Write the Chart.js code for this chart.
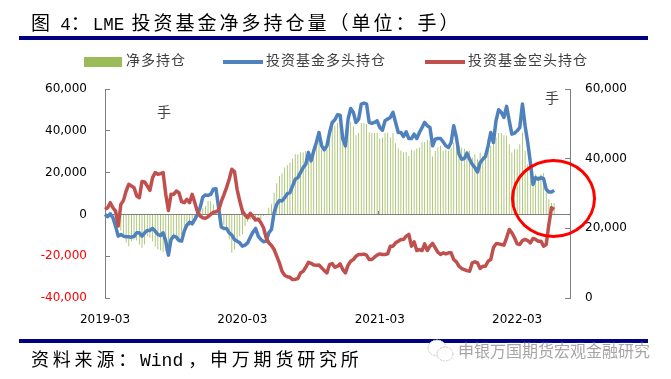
<!DOCTYPE html>
<html>
<head>
<meta charset="utf-8">
<script src="https://cdn.jsdelivr.net/npm/chart.js@4"></script>
<style>
  html, body { margin: 0; padding: 0; background: #fff; }
  #page { position: relative; width: 671px; height: 379px; overflow: hidden; }
  #page canvas { position: absolute; left: 0; top: 0; }
  .txt { position: absolute; white-space: nowrap; line-height: 1; font-family: "Noto Sans CJK SC", sans-serif; }
  .rule { position: absolute; left: 19px; width: 629px; height: 4px; background: #000080; }
  .head { font-size: 19px; letter-spacing: 3px; color: #000; }
  .head b, .foot b { font-family: "Liberation Mono", monospace; font-weight: 400; letter-spacing: 0; }
  .head b { font-size: 17.5px; }
  .foot { font-size: 18px; letter-spacing: 3.8px; color: #000; }
  .foot b { margin-right: 5px; }
  .leg { font-size: 14px; letter-spacing: 1px; color: #404040; top: 52px; }
  .key { position: absolute; }
  .unit { font-size: 14px; color: #404040; }
  #ring { position: absolute; left: 511px; top: 159px; width: 85px; height: 79px; box-sizing: border-box;
          border: 3px solid #ff0000; border-radius: 50%; }
  #mark { font-size: 16px; color: #a6a6a6; left: 458px; top: 342px; text-shadow: 0 0 2px #fff, 0 0 2px #fff; }
</style>
</head>
<body>
<div id="page">
  <canvas id="chart" width="671" height="379"></canvas>
  <div class="rule" style="top:36px"></div>
  <div class="rule" style="top:339px"></div>
  <div class="txt head" style="left:31px;top:12px">图 <b>4</b>：<b>LME</b> 投资基金净多持仓量（单位：手）</div>
  <div class="txt foot" style="left:31px;top:349px">资料来源：<b>Wind</b>，申万期货研究所</div>
  <div class="txt unit" style="left:157px;top:104px">手</div>
  <div class="txt unit" style="left:545px;top:90px">手</div>
  <div id="legend"></div>
  <div id="ring"></div>
  <svg style="position:absolute;left:426px;top:336px" width="30" height="30">
    <ellipse cx="11" cy="12" rx="9" ry="8" fill="#fff" stroke="#c8c8c8" stroke-dasharray="2 1"/>
    <ellipse cx="19" cy="18" rx="8" ry="7" fill="#fff" stroke="#c8c8c8" stroke-dasharray="2 1"/>
  </svg>
  <div class="txt" id="mark">申银万国期货宏观金融研究</div>
</div>
<script>
// weekly positions, 2019-03 to 2022-05
const xTickLabels = ['2019-03', '2020-03', '2021-03', '2022-03'];
const weeksPerTick = 52;
const weekCount = 177;

const netLong = [
  0,0,0,-500,-1000,-3000,-7700,-11200,-13600,-15200,-12800,-12000,-12500,-14400,-16000,-14400,-10400,-11200,-12800,-15200,
  -16800,-17300,-17900,-17600,-16000,-13100,-11500,-12500,-12500,-9900,-8000,-6100,-5600,-5100,-3200,-800,1600,2900,4000,6400,
  6400,4800,1900,-800,-1600,-5100,-8000,-12000,-18400,-16800,-13600,-10400,-9600,-5600,-3500,-2400,-2400,-1600,-800,-2400,
  -800,0,3200,4800,10400,14900,18400,19700,22400,23500,24800,26700,28800,28800,29600,29600,30400,30400,28800,29600,
  32800,39000,31200,30400,31200,38400,41600,42400,43700,43200,37600,32800,43700,44300,42100,37900,38900,43700,43700,43200,
  39200,38900,38900,38900,36300,36800,38900,39200,36800,38900,34100,31500,30400,29600,29900,28000,30900,30400,31500,32000,
  34400,34700,35700,35200,27700,30400,32000,32800,30400,31200,30400,32000,34400,34400,32800,32000,31500,30400,30400,27200,
  28800,26400,29600,28000,30400,36000,32800,35200,36800,38900,38900,37900,37600,33600,29600,31200,31200,33600,39200,30400,
  24000,21600,18400,19200,18400,19200,19700,14400,7200,5600,5300
];

const fundLong = [
  0,-1100,300,-1600,-5600,-10400,-9600,-10400,-10700,-10700,-10900,-10500,-8800,-8800,-10400,-8800,-7700,-7700,-6700,-8000,
  -9600,-10100,-8800,-12800,-19500,-12000,-10400,-10900,-12500,-12800,-8000,-5100,-3700,-4500,-2400,0,3200,8300,9300,9100,
  9600,12000,12300,3200,-6000,-6700,-6700,-8800,-9900,-12000,-12800,-13600,-15200,-14700,-13600,-10900,-8500,-6700,-10400,-12000,
  -13100,-12800,-8800,-7200,800,4800,6700,6400,8000,9900,10400,13600,16800,17600,20000,22400,24000,29600,25600,30400,
  34400,39200,32800,30900,32800,39200,44000,45300,47700,47500,36000,32800,45600,50700,48800,44000,45600,52800,53300,52800,
  44000,43500,44000,44800,41600,40300,44800,45600,46400,48800,44000,39200,39200,37300,39500,36300,36300,38400,36300,39200,
  41600,44000,42400,41600,32800,36000,36300,36300,34700,32800,32000,34400,42400,36800,28800,26400,26700,29300,26400,24000,
  22400,20300,24800,26400,27700,32800,39200,34400,44800,50100,48800,46400,51700,44800,38400,38900,40000,41600,52800,42400,
  34400,24800,14400,17600,16800,17600,17100,12000,10700,10700,11500
];

const fundShort = [
  2400,3200,5600,3200,1600,-5600,4800,6700,11200,14400,13600,12800,8800,8000,15700,15500,13600,11500,17600,20000,
  19200,19500,20000,9600,1900,9600,9600,11200,10400,6100,5600,7200,5600,9600,5600,1300,-800,-1600,-1900,-1100,
  0,1000,1300,1900,6100,9300,12800,16800,21600,20500,12000,6400,1600,-300,-1600,500,-1100,-2700,-2200,-4000,
  -6400,-11200,-13600,-14900,-16800,-20000,-23200,-27200,-29100,-29800,-30100,-31200,-31000,-30700,-28000,-27200,-25300,-22900,-23400,-24200,
  -24300,-24200,-25600,-26900,-28000,-24000,-23500,-25300,-24800,-23700,-26400,-28000,-24300,-22400,-21600,-20000,-19200,-19200,-19000,-19500,
  -21600,-21600,-20500,-19500,-18900,-19200,-19200,-18900,-15200,-15200,-13600,-12800,-12000,-12000,-10400,-9600,-15200,-13100,-17300,-16800,
  -17300,-14100,-17300,-15200,-13900,-16000,-18100,-19200,-18400,-18900,-18400,-18400,-21600,-22700,-24800,-25900,-26400,-26900,-27200,-23200,
  -22700,-23200,-25900,-24800,-24800,-22400,-21600,-16000,-14100,-14100,-14400,-14700,-11200,-7200,-8800,-11200,-14100,-14400,-12500,-12000,
  -12500,-13600,-11500,-12000,-12800,-12800,-15200,-14400,-4800,3200,2400
];

const seriesNames = ['净多持仓', '投资基金多头持仓', '投资基金空头持仓'];
const seriesColors = ['#9BBB59', '#4F81BD', '#C0504D'];

const axisGray = '#808080';
const labelFont = { family: 'DejaVu Sans', size: 12 };

const weekLabels = Array.from({ length: weekCount }, (_, i) => i);

new Chart('chart', {
  type: 'bar',
  data: {
    labels: weekLabels,
    datasets: [
      { type: 'line', label: seriesNames[2], data: fundShort, borderColor: seriesColors[2], borderWidth: 3.5, pointRadius: 0, tension: 0, borderJoinStyle: 'round', order: 1 },
      { type: 'line', label: seriesNames[1], data: fundLong, borderColor: seriesColors[1], borderWidth: 3.5, pointRadius: 0, tension: 0, borderJoinStyle: 'round', order: 2 },
      // inflateAmount off, otherwise these hairline bars come out twice as fat
      { type: 'bar', label: seriesNames[0], data: netLong, backgroundColor: seriesColors[0], barThickness: 0.8, inflateAmount: 0, order: 3 }
    ]
  },
  options: {
    responsive: false,
    animation: false,
    layout: { padding: { top: 89, left: 0, right: 0, bottom: 0 } },
    plugins: { legend: { display: false }, tooltip: { enabled: false } },
    scales: {
      x: {
        type: 'category',
        offset: false,
        border: { display: false },
        grid: { display: false },
        ticks: {
          autoSkip: false,
          maxRotation: 0,
          padding: 7,
          color: '#000',
          font: labelFont,
          callback: (v, i) => (i % weeksPerTick === 0 ? xTickLabels[i / weeksPerTick] : '')
        },
        afterFit: s => { s.height = 81; }
      },
      // the zero line carries the year ticks, the labels stay at the bottom
      x2: {
        type: 'category',
        offset: false,
        position: { y: 0 },
        border: { display: true, color: axisGray, width: 1 },
        grid: {
          drawOnChartArea: false,
          tickLength: -4,
          tickColor: ctx => (ctx.index % weeksPerTick === 0 ? axisGray : 'rgba(0,0,0,0)')
        },
        ticks: { display: false, autoSkip: false },
        afterFit: s => { s.height = 0; }
      },
      y: {
        position: 'left',
        min: -40000,
        max: 60000,
        border: { display: true, color: axisGray, width: 1 },
        grid: { drawOnChartArea: false, tickLength: -5, tickColor: axisGray },
        ticks: {
          stepSize: 20000,
          padding: 23,
          font: labelFont,
          color: ctx => (ctx.tick.value < 0 ? '#ff0000' : '#000'),
          callback: v => v.toLocaleString('en-US')
        },
        afterFit: s => { s.width = 105; }
      },
      y2: {
        position: 'right',
        min: 0,
        max: 60000,
        border: { display: true, color: axisGray, width: 1 },
        grid: { drawOnChartArea: false, tickLength: -5, tickColor: axisGray },
        ticks: {
          stepSize: 20000,
          padding: 20,
          font: labelFont,
          color: '#000',
          callback: v => v.toLocaleString('en-US')
        },
        afterFit: s => { s.width = 101; }
      }
    }
  }
});

// legend sits at fixed spots like the original
const legendSpots = [
  { boxX: 84, boxW: 38, boxY: 57, boxH: 10, textX: 126 },
  { boxX: 223, boxW: 40, boxY: 60, boxH: 4, textX: 266 },
  { boxX: 425, boxW: 40, boxY: 60, boxH: 4, textX: 468 }
];
document.getElementById('legend').innerHTML = seriesNames.map((name, i) => {
  const s = legendSpots[i];
  return `<div class="key" style="left:${s.boxX}px;top:${s.boxY}px;width:${s.boxW}px;height:${s.boxH}px;background:${seriesColors[i]}"></div>` +
         `<div class="txt leg" style="left:${s.textX}px">${name}</div>`;
}).join('');
</script>
</body>
</html>
